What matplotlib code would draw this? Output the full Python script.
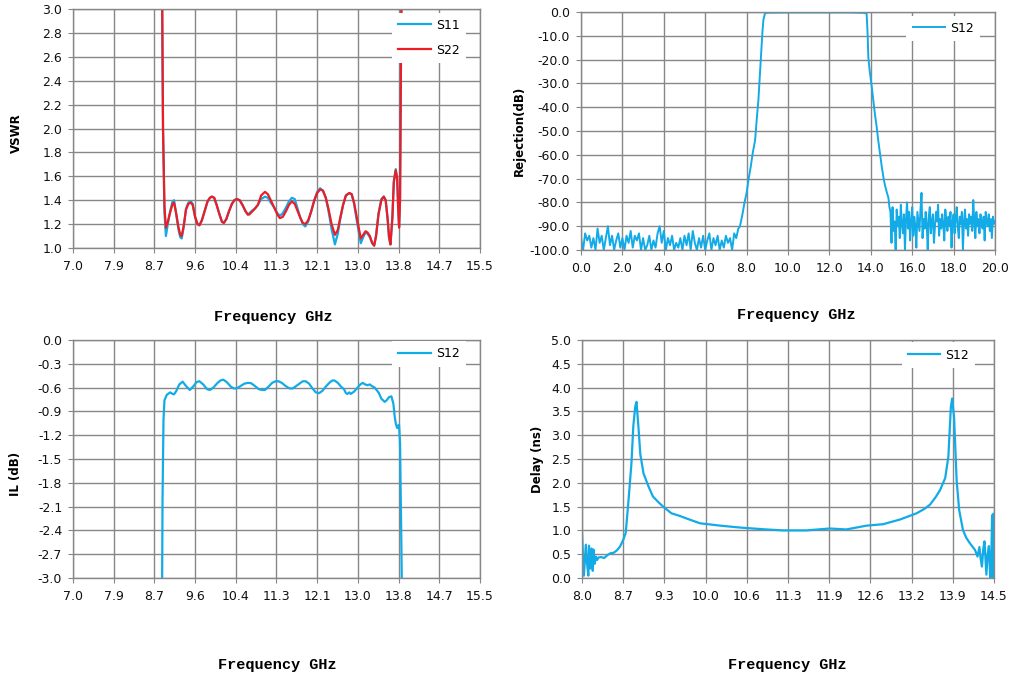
import numpy as np
import matplotlib
matplotlib.use("Agg")
import matplotlib.pyplot as plt

BLUE = "#12ABE8"
RED = "#EE1C24"
GRID = "#878787"

# ---------------- VSWR (top left) ----------------
vswr_f = [8.80, 8.86, 8.88, 8.91, 8.94, 8.98, 9.03, 9.08, 9.11, 9.15, 9.20, 9.24, 9.27, 9.31,
          9.36, 9.41, 9.46, 9.50, 9.55, 9.60, 9.64, 9.69, 9.75, 9.81, 9.86, 9.90, 9.95, 10.00,
          10.06, 10.11, 10.15, 10.20, 10.26, 10.32, 10.37, 10.42, 10.48, 10.54, 10.60, 10.65,
          10.68, 10.73, 10.80, 10.86, 10.93, 11.01, 11.07, 11.13, 11.20, 11.27, 11.32, 11.38,
          11.45, 11.51, 11.57, 11.63, 11.69, 11.75, 11.80, 11.85, 11.91, 11.97, 12.04, 12.10,
          12.16, 12.22, 12.28, 12.34, 12.40, 12.47, 12.53, 12.58, 12.64, 12.70, 12.77, 12.82,
          12.87, 12.93, 13.01, 13.06, 13.11, 13.15, 13.20, 13.25, 13.29, 13.33, 13.38, 13.44,
          13.49, 13.53, 13.57, 13.60, 13.63, 13.67, 13.70, 13.74, 13.77, 13.79, 13.81, 13.83,
          13.85, 13.90]
s22_vswr = [5.0, 3.2, 2.0, 1.35, 1.17, 1.22, 1.30, 1.37, 1.38, 1.30, 1.18, 1.11, 1.10, 1.18,
            1.32, 1.37, 1.38, 1.36, 1.26, 1.20, 1.19, 1.23, 1.31, 1.39, 1.42, 1.43, 1.42, 1.36,
            1.28, 1.22, 1.21, 1.24, 1.31, 1.37, 1.40, 1.41, 1.40, 1.36, 1.31, 1.28,
            1.28, 1.30, 1.33, 1.36, 1.44, 1.47, 1.45, 1.40, 1.34, 1.28, 1.25, 1.26,
            1.31, 1.36, 1.39, 1.37, 1.31, 1.25, 1.21, 1.20, 1.23, 1.30, 1.40, 1.46,
            1.49, 1.48, 1.42, 1.32, 1.20, 1.11, 1.15, 1.25, 1.36, 1.44, 1.46, 1.45,
            1.38, 1.25, 1.08, 1.11, 1.14, 1.13, 1.10, 1.04, 1.02, 1.10, 1.28, 1.40,
            1.43, 1.40, 1.25, 1.10, 1.03, 1.25, 1.55, 1.65, 1.58, 1.35, 1.17, 1.40,
            2.6, 5.0]
s11_vswr = [5.0, 3.2, 2.0, 1.30, 1.10, 1.20, 1.31, 1.39, 1.40, 1.30, 1.16, 1.09, 1.08, 1.17,
            1.33, 1.38, 1.39, 1.37, 1.26, 1.20, 1.19, 1.23, 1.31, 1.39, 1.42, 1.43, 1.42, 1.36,
            1.28, 1.22, 1.21, 1.24, 1.31, 1.37, 1.40, 1.41, 1.40, 1.36, 1.31, 1.28,
            1.29, 1.31, 1.33, 1.36, 1.41, 1.43, 1.42, 1.38, 1.34, 1.29, 1.27, 1.29,
            1.34, 1.39, 1.42, 1.41, 1.33, 1.25, 1.20, 1.18, 1.22, 1.30, 1.40, 1.47,
            1.50, 1.48, 1.42, 1.30, 1.16, 1.03, 1.12, 1.24, 1.36, 1.44, 1.46, 1.45,
            1.37, 1.22, 1.04, 1.09, 1.13, 1.12, 1.09, 1.04, 1.02, 1.11, 1.29, 1.41,
            1.43, 1.40, 1.24, 1.08, 1.03, 1.26, 1.56, 1.66, 1.58, 1.35, 1.18, 1.40,
            2.6, 5.0]

# ---------------- Rejection (top right) ----------------
rej_f = [0.0, 0.1, 0.2, 0.3, 0.4, 0.5, 0.6, 0.7, 0.8, 0.9, 1.0, 1.1, 1.2, 1.3, 1.4, 1.5,
         1.6, 1.7, 1.8, 1.9, 2.0, 2.1, 2.2, 2.3, 2.4, 2.5, 2.6, 2.7, 2.8, 2.9, 3.0, 3.1,
         3.2, 3.3, 3.4, 3.5, 3.6, 3.7, 3.8, 3.9, 4.0, 4.1, 4.2, 4.3, 4.4, 4.5, 4.6, 4.7,
         4.8, 4.9, 5.0, 5.1, 5.2, 5.3, 5.4, 5.5, 5.6, 5.7, 5.8, 5.9, 6.0, 6.1, 6.2, 6.3,
         6.4, 6.5, 6.6, 6.7, 6.8, 6.9, 7.0, 7.1, 7.2, 7.3, 7.4,
         7.5, 7.6, 7.68, 7.8, 7.9, 8.0, 8.1, 8.2, 8.3, 8.41, 8.5, 8.57, 8.63, 8.70, 8.76,
         8.81, 8.89, 9.0, 10.0, 11.0, 12.0, 13.0, 13.5, 13.72, 13.80, 13.85, 13.88, 13.95,
         14.04, 14.12, 14.20, 14.28, 14.36, 14.45, 14.53, 14.62, 14.69, 14.78, 14.85, 14.90,
         14.95, 15.00, 15.05, 15.10, 15.15, 15.20, 15.25, 15.30, 15.35, 15.40, 15.45, 15.50,
         15.55, 15.60, 15.65, 15.70, 15.75, 15.80, 15.85, 15.90, 15.95, 16.00, 16.05, 16.10,
         16.15, 16.20, 16.25, 16.30, 16.35, 16.40, 16.45, 16.50, 16.55, 16.60, 16.65, 16.70,
         16.75, 16.80, 16.85, 16.90, 16.95, 17.00, 17.05, 17.10, 17.15, 17.20, 17.25, 17.30,
         17.35, 17.40, 17.45, 17.50, 17.55, 17.60, 17.65, 17.70, 17.75, 17.80, 17.85, 17.90,
         17.95, 18.00, 18.05, 18.10, 18.15, 18.20, 18.25, 18.30, 18.35, 18.40, 18.45, 18.50,
         18.55, 18.60, 18.65, 18.70, 18.75, 18.80, 18.85, 18.90, 18.95, 19.00, 19.05, 19.10,
         19.15, 19.20, 19.25, 19.30, 19.35, 19.40, 19.45, 19.50, 19.55, 19.60, 19.65, 19.70,
         19.75, 19.80, 19.85, 19.90, 19.95, 20.00]
rej_s12 = [-95, -100, -93, -96, -94, -99, -95, -100, -91, -97, -94, -100, -95, -90, -98, -94,
           -100, -96, -93, -99, -95, -100, -94, -97, -92, -99, -94, -96, -93, -100, -95, -100,
           -98, -94, -100, -96, -99, -93, -90, -97, -92, -100, -95, -98, -94, -100, -97, -99,
           -95, -100, -94, -98, -93, -100, -92, -97, -100, -95, -99, -94, -100, -96, -93, -100,
           -95, -98, -94, -100, -96, -99, -94, -97, -95, -100, -93,
           -95, -91, -90, -85, -80, -76, -70, -65, -59, -54, -44, -37, -28, -17, -9,
           -3.4, -0.5, -0.3, -0.2, -0.2, -0.2, -0.2, -0.3, -0.4, -0.8, -10, -19, -25,
           -31, -37, -43, -48, -54, -60, -65, -70, -73, -76, -78, -82,
           -84, -97, -82, -92, -88, -100, -83, -90, -86, -95, -81, -89,
           -93, -85, -100, -87, -80, -91, -84, -96, -88, -82, -94, -86,
           -90, -99, -84, -88, -92, -83, -76, -95, -87, -91, -84, -89,
           -100, -86, -82, -93, -88, -85, -97, -90, -84, -88, -81, -94,
           -87, -91, -85, -89, -96, -83, -88, -92, -86, -90, -84, -99,
           -88, -85, -93, -87, -82, -90, -95, -86, -89, -84, -100, -88,
           -83, -91, -87, -94, -85, -89, -86, -92, -79, -88, -95, -84,
           -90, -87, -93, -85, -89, -91, -86, -96, -84, -88, -90, -85,
           -92, -87, -95, -86, -89, -88]

# ---------------- Insertion loss (bottom left) ----------------
il_f = [8.86, 8.87, 8.89, 8.91, 8.96, 9.03, 9.08, 9.11, 9.16, 9.22, 9.29, 9.36, 9.44, 9.52,
        9.58, 9.64, 9.72, 9.80, 9.86, 9.93, 10.02, 10.08, 10.14, 10.21, 10.30, 10.36, 10.42,
        10.50, 10.58, 10.66, 10.72, 10.80, 10.88, 10.95, 11.01, 11.08, 11.16, 11.23, 11.29,
        11.36, 11.44, 11.52, 11.59, 11.66, 11.73, 11.80, 11.86, 11.93, 12.00, 12.07, 12.14,
        12.21, 12.29, 12.37, 12.42, 12.46, 12.53, 12.60, 12.66, 12.70, 12.73, 12.77, 12.80,
        12.87, 12.93, 13.00, 13.05, 13.10, 13.15, 13.20, 13.24, 13.30, 13.34, 13.39, 13.44,
        13.51, 13.55, 13.60, 13.65, 13.69, 13.72, 13.74, 13.77, 13.79, 13.81, 13.83, 13.85,
        13.87]
il_s12 = [-3.2, -2.0, -1.0, -0.76, -0.69, -0.66, -0.68, -0.685, -0.64, -0.56, -0.525, -0.58,
          -0.63, -0.58, -0.53, -0.52, -0.56, -0.62, -0.63, -0.60, -0.54, -0.51, -0.50, -0.53,
          -0.59, -0.61, -0.61, -0.58, -0.55, -0.54, -0.545, -0.58, -0.62, -0.63, -0.63, -0.59,
          -0.54, -0.52, -0.52, -0.54, -0.58, -0.61, -0.61, -0.58, -0.55, -0.52, -0.52, -0.55,
          -0.61, -0.66, -0.67, -0.64, -0.58, -0.53, -0.51, -0.51, -0.54, -0.59, -0.62, -0.67,
          -0.68, -0.66, -0.68, -0.65, -0.61, -0.56, -0.54, -0.56, -0.57, -0.56, -0.58, -0.60,
          -0.63, -0.67, -0.74, -0.78, -0.76, -0.72, -0.71, -0.80, -0.97, -1.05, -1.11, -1.08,
          -1.07, -1.30, -2.2, -3.2]

# ---------------- Group delay (bottom right) ----------------
gd_f = [8.00, 8.03, 8.06, 8.08, 8.10, 8.11, 8.13, 8.15, 8.17, 8.18, 8.20, 8.22, 8.24, 8.26,
        8.30, 8.35, 8.40, 8.45, 8.50, 8.55, 8.60, 8.65, 8.69, 8.73, 8.78, 8.81, 8.84, 8.86,
        8.89, 8.92, 8.97, 9.05, 9.12, 9.20, 9.28, 9.41, 9.55, 9.65, 9.86, 10.18, 10.49,
        10.91, 11.17, 11.54, 11.91, 12.17, 12.49, 12.75, 13.02, 13.28, 13.40, 13.49, 13.58,
        13.65, 13.73, 13.78, 13.82, 13.84, 13.87, 13.91, 13.95, 14.01, 14.06, 14.12, 14.16,
        14.20, 14.24, 14.27, 14.29, 14.31, 14.33, 14.35, 14.38, 14.40, 14.42, 14.44, 14.46,
        14.47, 14.48, 14.49, 14.50]
gd_s12 = [0.94, 0.05, 0.70, 0.30, 0.05, 0.68, 0.20, 0.62, 0.15, 0.60, 0.30, 0.45, 0.38, 0.43,
          0.44, 0.42, 0.48, 0.52, 0.53, 0.58, 0.66, 0.80, 0.95, 1.57, 2.41, 3.20, 3.60, 3.70,
          3.18, 2.60, 2.20, 1.92, 1.71, 1.60, 1.50, 1.36, 1.30, 1.25, 1.15, 1.10, 1.06,
          1.02, 1.00, 1.00, 1.04, 1.02, 1.10, 1.13, 1.23, 1.36, 1.45, 1.54, 1.70,
          1.85, 2.10, 2.55, 3.60, 3.77, 3.38, 2.06, 1.43, 1.01, 0.85, 0.73, 0.66,
          0.59, 0.45, 0.65, 0.40, 0.24, 0.60, 0.77, 0.07, 0.50, 0.67, 0.00, 0.60,
          1.32, 0.00, 1.35, 1.00]

# tick labels as printed on the chart
band_ticklabels = ["7.0", "7.9", "8.7", "9.6", "10.4", "11.3", "12.1", "13.0", "13.8", "14.7", "15.5"]
gd_ticklabels = ["8.0", "8.7", "9.3", "10.0", "10.6", "11.3", "11.9", "12.6", "13.2", "13.9", "14.5"]


def style(ax):
    ax.grid(True, color=GRID, lw=1.0)
    ax.set_axisbelow(True)
    for s in ax.spines.values():
        s.set_color(GRID)
        s.set_linewidth(1.0)
    ax.tick_params(length=3.8, width=0.8, color=GRID, labelsize=9, labelcolor="#101010")
    ax.tick_params(axis="x", pad=5)
    ax.tick_params(axis="y", pad=4)


def legend(ax, anchor):
    lg = ax.legend(loc="upper right", bbox_to_anchor=anchor, fontsize=9, frameon=True,
                   fancybox=False, framealpha=1, facecolor="white", edgecolor="white",
                   handlelength=2.6, handletextpad=0.4, labelspacing=0.95, borderpad=0.5,
                   borderaxespad=0)
    lg.get_frame().set_linewidth(0)


fig = plt.figure(figsize=(10.15, 6.91), dpi=100)

# top left
ax1 = fig.add_axes([73 / 1015, 1 - 248 / 691, 407 / 1015, 239 / 691])
ax1.plot(vswr_f, s11_vswr, color=BLUE, lw=1.6, label="S11")
ax1.plot(vswr_f, s22_vswr, color=RED, lw=1.6, label="S22")
ax1.set_xlim(7.0, 15.5)
ax1.set_ylim(1.0, 3.0)
ax1.set_xticks(np.linspace(7.0, 15.5, 11))
ax1.set_xticklabels(band_ticklabels)
ax1.set_yticks(np.arange(1.0, 3.01, 0.2))
ax1.set_yticklabels(["%.1f" % v for v in np.arange(1.0, 3.01, 0.2)])
style(ax1)
legend(ax1, (0.965, 0.985))

# top right
ax2 = fig.add_axes([581 / 1015, 1 - 250 / 691, 414 / 1015, 238 / 691])
ax2.plot(rej_f, rej_s12, color=BLUE, lw=1.4, label="S12")
ax2.set_xlim(0, 20)
ax2.set_ylim(-100, 0)
ax2.set_xticks(np.arange(0, 20.1, 2))
ax2.set_xticklabels(["%.1f" % v for v in np.arange(0, 20.1, 2)])
ax2.set_yticks(np.arange(-100, 0.1, 10))
ax2.set_yticklabels(["%.1f" % v for v in np.arange(-100, 0.1, 10)])
style(ax2)
legend(ax2, (0.964, 0.985))

# bottom left
ax3 = fig.add_axes([73 / 1015, 1 - 578 / 691, 407 / 1015, 238 / 691])
ax3.plot(il_f, il_s12, color=BLUE, lw=1.6, label="S12")
ax3.set_xlim(7.0, 15.5)
ax3.set_ylim(-3.0, 0.0)
ax3.set_xticks(np.linspace(7.0, 15.5, 11))
ax3.set_xticklabels(band_ticklabels)
ax3.set_yticks(np.linspace(-3.0, 0.0, 11))
ax3.set_yticklabels(["%.1f" % v for v in np.linspace(-3.0, 0.0, 11)])
style(ax3)
legend(ax3, (0.965, 0.995))

# bottom right
ax4 = fig.add_axes([582 / 1015, 1 - 578 / 691, 412 / 1015, 238 / 691])
ax4.plot(gd_f, gd_s12, color=BLUE, lw=1.6, label="S12")
ax4.set_xlim(8.0, 14.5)
ax4.set_ylim(0.0, 5.0)
ax4.set_xticks(np.linspace(8.0, 14.5, 11))
ax4.set_xticklabels(gd_ticklabels)
ax4.set_yticks(np.arange(0, 5.01, 0.5))
ax4.set_yticklabels(["%.1f" % v for v in np.arange(0, 5.01, 0.5)])
style(ax4)
legend(ax4, (0.955, 0.99))

# axis titles
xl = dict(family="Liberation Mono", weight="bold", size=11, ha="center", va="center")
fig.text(273 / 1015, 1 - 317 / 691, "Frequency GHz", **xl)
fig.text(796 / 1015, 1 - 315 / 691, "Frequency GHz", **xl)
fig.text(277 / 1015, 1 - 665 / 691, "Frequency GHz", **xl)
fig.text(787 / 1015, 1 - 665 / 691, "Frequency GHz", **xl)

yl = dict(weight="bold", size=8.5, rotation=90, ha="center", va="center")
fig.text(16 / 1015, 1 - 133 / 691, "VSWR", **yl)
fig.text(519 / 1015, 1 - 131 / 691, "Rejection(dB)", **yl)
fig.text(16 / 1015, 1 - 474 / 691, "IL (dB)", **yl)
fig.text(538 / 1015, 1 - 459 / 691, "Delay (ns)", **yl)

fig.savefig("out.png", dpi=100)
